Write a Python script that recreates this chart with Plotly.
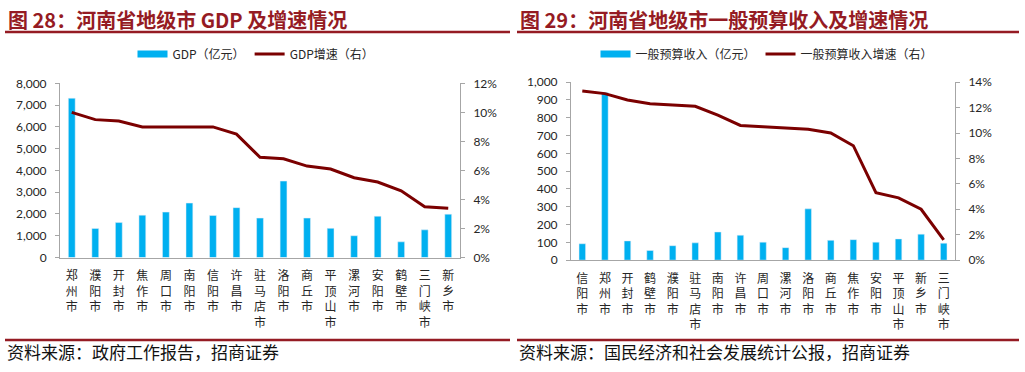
import plotly.graph_objects as go

# ---------------- data ----------------
cities1 = ["郑州市", "濮阳市", "开封市", "焦作市", "周口市", "南阳市", "信阳市", "许昌市",
           "驻马店市", "洛阳市", "商丘市", "平顶山市", "漯河市", "安阳市", "鹤壁市", "三门峡市", "新乡市"]
gdp = [7315, 1335, 1605, 1945, 2085, 2500, 1930, 2290, 1810, 3510, 1810, 1340, 1000, 1895, 720, 1270, 1990]
gdp_growth = [0.100, 0.095, 0.094, 0.090, 0.090, 0.090, 0.090, 0.085, 0.069, 0.068, 0.063, 0.061,
              0.055, 0.052, 0.046, 0.035, 0.034]

cities2 = ["信阳市", "郑州市", "开封市", "鹤壁市", "濮阳市", "驻马店市", "南阳市", "许昌市", "周口市",
           "漯河市", "洛阳市", "商丘市", "焦作市", "安阳市", "平顶山市", "新乡市", "三门峡市"]
revenue = [92, 942, 108, 54, 81, 97, 158, 140, 101, 70, 288, 111, 115, 101, 119, 146, 95]
rev_growth = [0.133, 0.131, 0.126, 0.123, 0.122, 0.121, 0.114, 0.106, 0.105, 0.104, 0.103, 0.100,
              0.090, 0.053, 0.049, 0.040, 0.016]

title1 = "图 28：河南省地级市 GDP 及增速情况"
title2 = "图 29：河南省地级市一般预算收入及增速情况"
source1 = "资料来源：政府工作报告，招商证券"
source2 = "资料来源：国民经济和社会发展统计公报，招商证券"

# ---------------- style ----------------
W, H = 1025, 372
BLUE = "#00B0F0"
RED = "#7B0000"
TITLE_RED = "#951B23"
CJK = "Noto Sans CJK SC"
NUM = "Lato, Noto Sans CJK SC"
AX = "#A6A6A6"
TXT = "#262626"


def vert(s):
    return "<br>".join(list(s))


def px(x):
    return x / W


def py(y):
    return 1 - y / H


lab1 = [vert(c) for c in cities1]
lab2 = [vert(c) for c in cities2]

fig = go.Figure()
fig.add_trace(go.Bar(x=lab1, y=gdp, name="GDP（亿元）", marker_color=BLUE,
                     xaxis="x", yaxis="y", showlegend=False))
fig.add_trace(go.Scatter(x=[None], y=[None], name="GDP（亿元）", mode="lines",
                         line=dict(color=BLUE, width=7), xaxis="x", yaxis="y", legend="legend"))
fig.add_trace(go.Scatter(x=lab1, y=gdp_growth, name="GDP增速（右）", mode="lines",
                         line=dict(color=RED, width=3), xaxis="x", yaxis="y2", legend="legend"))
fig.add_trace(go.Bar(x=lab2, y=revenue, name="一般预算收入（亿元）", marker_color=BLUE,
                     xaxis="x2", yaxis="y3", showlegend=False))
fig.add_trace(go.Scatter(x=[None], y=[None], name="一般预算收入（亿元）", mode="lines",
                         line=dict(color=BLUE, width=7), xaxis="x2", yaxis="y3", legend="legend2"))
fig.add_trace(go.Scatter(x=lab2, y=rev_growth, name="一般预算收入增速（右）", mode="lines",
                         line=dict(color=RED, width=3), xaxis="x2", yaxis="y4", legend="legend2"))

xcommon = dict(type="category", showline=True, linecolor=AX, linewidth=1, ticks="outside",
               ticklen=7, tickcolor="rgba(0,0,0,0)",
               tickfont=dict(family=CJK, size=12, color=TXT), showgrid=False, zeroline=False,
               tickangle=0)
ycommon = dict(showline=True, linecolor=AX, linewidth=1, ticks="outside", ticklen=4,
               tickcolor=AX, tickfont=dict(family=NUM, size=12, color=TXT), showgrid=False,
               zeroline=False, ticklabelstandoff=6)

yd1 = [py(260), py(78.5)]
yd2 = [py(262.7), py(77.3)]

legfont = dict(family=CJK, size=12, color=TXT)
fig.update_layout(
    width=W, height=H, margin=dict(l=0, r=0, t=0, b=0),
    paper_bgcolor="white", plot_bgcolor="white",
    bargap=0.71,
    xaxis=dict(xcommon, domain=[px(60), px(460)], anchor="y"),
    yaxis=dict(ycommon, domain=yd1, anchor="x", range=[0, 8000], dtick=1000, tickformat=","),
    yaxis2=dict(ycommon, overlaying="y", side="right", anchor="x", range=[0, 0.12],
                dtick=0.02, tickformat=".0%"),
    xaxis2=dict(xcommon, domain=[px(571), px(955)], anchor="y3"),
    yaxis3=dict(ycommon, domain=yd2, anchor="x2", range=[0, 1000], dtick=100, tickformat=","),
    yaxis4=dict(ycommon, overlaying="y3", side="right", anchor="x2", range=[0, 0.14],
                dtick=0.02, tickformat=".0%"),
    legend=dict(orientation="h", x=px(256), xanchor="center", y=py(48), yanchor="middle",
                font=legfont, bgcolor="rgba(0,0,0,0)", itemwidth=30, tracegroupgap=0),
    legend2=dict(orientation="h", x=px(767), xanchor="center", y=py(48), yanchor="middle",
                 font=legfont, bgcolor="rgba(0,0,0,0)", itemwidth=30, tracegroupgap=0),
    showlegend=True,
)

shapes = []
annotations = []
for (x0, x1, title, src) in [(5, 510, title1, source1), (517, 1019, title2, source2)]:
    shapes.append(dict(type="line", xref="paper", yref="paper", x0=px(x0), x1=px(x1),
                       y0=py(25), y1=py(25), line=dict(color=TITLE_RED, width=2.5)))
    shapes.append(dict(type="line", xref="paper", yref="paper", x0=px(x0), x1=px(x1),
                       y0=py(346), y1=py(346), line=dict(color=TITLE_RED, width=2.5)))
    annotations.append(dict(text="<b>" + title + "</b>", xref="paper", yref="paper",
                            x=px(x0 + 1), y=py(12), xanchor="left", yanchor="middle",
                            showarrow=False, font=dict(family=CJK, size=20, color=TITLE_RED)))
    annotations.append(dict(text=src, xref="paper", yref="paper",
                            x=px(x0), y=py(358), xanchor="left", yanchor="middle",
                            showarrow=False, font=dict(family=CJK, size=17, color="#111")))
fig.update_layout(shapes=shapes, annotations=annotations)

fig.write_html("out.html", config={"displayModeBar": False},
               post_script="document.body.style.margin='0';document.body.style.overflow='hidden';")
